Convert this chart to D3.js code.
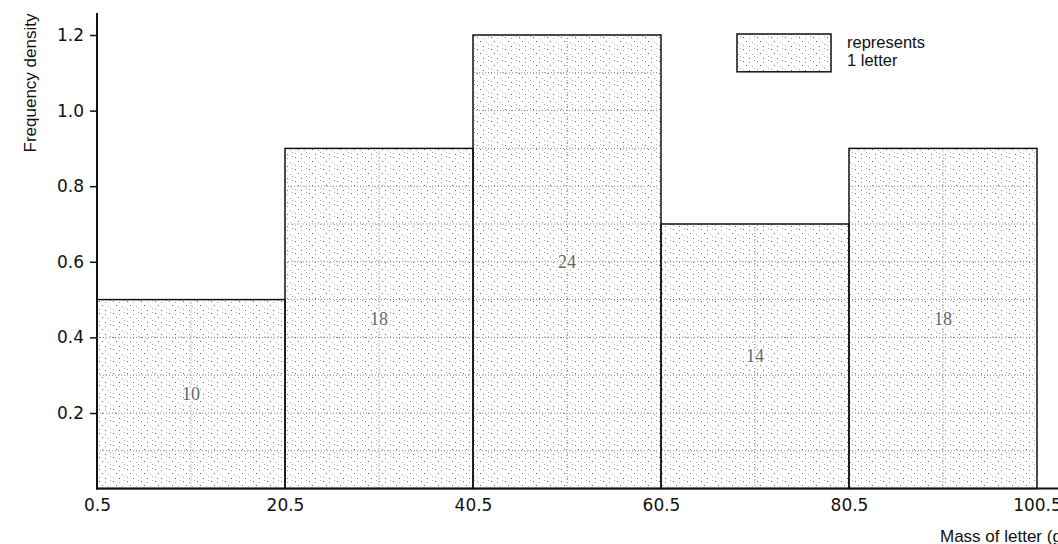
<!DOCTYPE html>
<html>
<head>
<meta charset="utf-8">
<script src="https://cdn.jsdelivr.net/npm/d3@7"></script>
<style>
  html, body { margin: 0; padding: 0; background: #fff; }
  svg { display: block; }
</style>
</head>
<body>
<svg id="chart" width="1058" height="544"></svg>
<script>
// ---- data ----
const classStarts = [0.5, 20.5, 40.5, 60.5, 80.5];
const classEnds   = [20.5, 40.5, 60.5, 80.5, 100.5];
const frequencyDensity = [0.5, 0.9, 1.2, 0.7, 0.9];
const frequencies = [10, 18, 24, 14, 18];
const xTickValues = [0.5, 20.5, 40.5, 60.5, 80.5, 100.5];
const yTickValues = [0.2, 0.4, 0.6, 0.8, 1.0, 1.2];
const cellWidth = 10;      // class-width units per letter cell
const cellHeight = 0.1;    // density units per letter cell

const svg = d3.select("#chart");
const x = d3.scaleLinear().domain([0.5, 100.5]).range([97, 1037]);
const y = d3.scaleLinear().domain([0, 1.2]).range([488.6, 35]);

const defs = svg.append("defs");
const pat = defs.append("pattern")
  .attr("id", "stipple").attr("patternUnits", "userSpaceOnUse")
  .attr("width", 14).attr("height", 12);
const dots = [[1,1],[7,2],[12,0],[4,5],[10,6],[1,9],[7,10],[12,8]];
pat.selectAll("rect").data(dots).enter().append("rect")
  .attr("x", d => d[0]).attr("y", d => d[1])
  .attr("width", 1).attr("height", 1)
  .attr("fill", (d, i) => i % 3 === 0 ? "#666" : "#aaa");

const bars = classStarts.map((s, i) => ({
  start: s, end: classEnds[i], fd: frequencyDensity[i], f: frequencies[i]
}));

const g = svg.append("g");
// stippled fill
g.selectAll("rect.fill").data(bars).enter().append("rect")
  .attr("class", "fill")
  .attr("x", d => x(d.start)).attr("y", d => y(d.fd))
  .attr("width", d => x(d.end) - x(d.start))
  .attr("height", d => y(0) - y(d.fd))
  .attr("fill", "url(#stipple)");

// dotted cell lines inside bars
bars.forEach(d => {
  const nRows = Math.round(d.fd / cellHeight);
  for (let r = 1; r < nRows; r++) {
    g.append("line")
      .attr("x1", x(d.start) + 3).attr("x2", x(d.end) - 3)
      .attr("y1", y(r * cellHeight)).attr("y2", y(r * cellHeight))
      .attr("stroke", "#888").attr("stroke-width", 1)
      .attr("stroke-dasharray", "1,2");
  }
  for (let c = d.start + cellWidth; c < d.end - 0.01; c += cellWidth) {
    g.append("line")
      .attr("x1", x(c)).attr("x2", x(c))
      .attr("y1", y(d.fd) + 3).attr("y2", y(0))
      .attr("stroke", "#888").attr("stroke-width", 1)
      .attr("stroke-dasharray", "1,2");
  }
});

// bar outlines
g.selectAll("rect.outline").data(bars).enter().append("rect")
  .attr("class", "outline")
  .attr("x", d => x(d.start)).attr("y", d => y(d.fd))
  .attr("width", d => x(d.end) - x(d.start))
  .attr("height", d => y(0) - y(d.fd))
  .attr("fill", "none").attr("stroke", "#111").attr("stroke-width", 1.5);

// frequency labels
g.selectAll("text.freq").data(bars).enter().append("text")
  .attr("class", "freq")
  .attr("x", d => x((d.start + d.end) / 2))
  .attr("y", d => y(d.fd / 2))
  .attr("text-anchor", "middle").attr("dominant-baseline", "central")
  .attr("font-family", "Liberation Serif, DejaVu Serif, serif")
  .attr("font-size", 18).attr("fill", "#666")
  .style("paint-order", "stroke").attr("stroke", "#fff").attr("stroke-width", 3)
  .text(d => d.f);

// axes
const yAxis = d3.axisLeft(y).tickValues(yTickValues).tickFormat(d3.format(".1f"))
  .tickSize(7).tickPadding(6);
const yg = svg.append("g").attr("transform", `translate(${x(0.5)},0)`).call(yAxis);
yg.select(".domain").remove();
yg.selectAll("text").attr("font-family", "DejaVu Sans, sans-serif").attr("font-size", 17).attr("fill", "#111");
yg.selectAll("line").attr("stroke", "#111").attr("stroke-width", 1.5);
svg.append("line").attr("x1", x(0.5)).attr("x2", x(0.5))
  .attr("y1", 13).attr("y2", y(0) + 1)
  .attr("stroke", "#111").attr("stroke-width", 2);

const xAxis = d3.axisBottom(x).tickValues(xTickValues).tickFormat(d3.format(".1f"))
  .tickSize(0).tickPadding(10);
const xg = svg.append("g").attr("transform", `translate(0,${y(0)})`).call(xAxis);
xg.select(".domain").remove();
xg.selectAll("text").attr("font-family", "DejaVu Sans, sans-serif").attr("font-size", 17).attr("fill", "#111");
svg.append("line").attr("x1", x(0.5) - 1).attr("x2", 1058)
  .attr("y1", y(0)).attr("y2", y(0))
  .attr("stroke", "#111").attr("stroke-width", 2);

// axis titles
svg.append("text")
  .attr("transform", "translate(36,83) rotate(-90)")
  .attr("text-anchor", "middle")
  .attr("font-family", "Liberation Sans, Arial, sans-serif").attr("font-size", 17).attr("fill", "#111")
  .text("Frequency density");
svg.append("text")
  .attr("x", 940).attr("y", 542)
  .attr("font-family", "Liberation Sans, Arial, sans-serif").attr("font-size", 17).attr("fill", "#111")
  .text("Mass of letter (g)");

// legend: one cell = 1 letter
const lx = 737, ly = 34;
svg.append("rect").attr("x", lx).attr("y", ly)
  .attr("width", x(0.5 + cellWidth) - x(0.5))
  .attr("height", y(0) - y(cellHeight))
  .attr("fill", "url(#stipple)").attr("stroke", "#111").attr("stroke-width", 1.5);
svg.append("text").attr("x", 847).attr("y", 48)
  .attr("font-family", "Liberation Sans, Arial, sans-serif").attr("font-size", 16.5).attr("fill", "#111")
  .text("represents");
svg.append("text").attr("x", 847).attr("y", 66)
  .attr("font-family", "Liberation Sans, Arial, sans-serif").attr("font-size", 16.5).attr("fill", "#111")
  .text("1 letter");
</script>
</body>
</html>
